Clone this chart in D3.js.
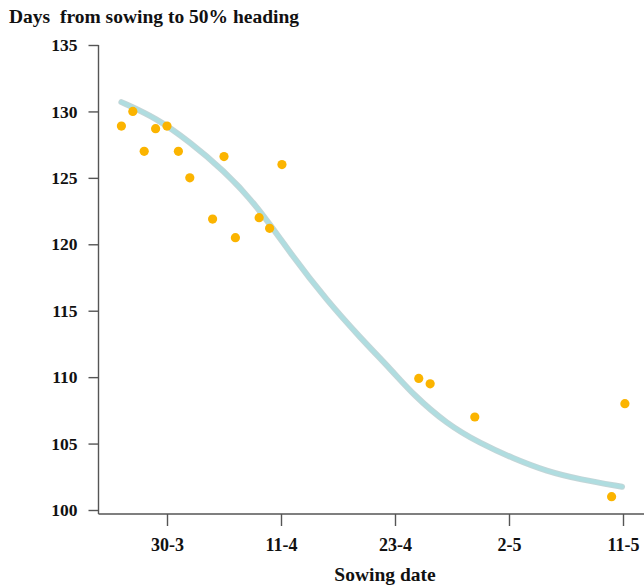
<!DOCTYPE html>
<html>
<head>
<meta charset="utf-8">
<script src="https://cdn.jsdelivr.net/npm/d3@7"></script>
<style>
body { margin: 0; background: #fff; }
svg text { font-family: "Liberation Serif", "DejaVu Serif", serif; font-weight: bold; fill: #111; }
.axis line, .axisline { stroke: #555; stroke-width: 1.4; }
</style>
</head>
<body>
<div class="mainviz"></div>
<script>
// days counted from 30-3, ticks drawn evenly every 12 units
var tickVals = [0, 12, 24, 36, 48];
var tickLabels = ["30-3", "11-4", "23-4", "2-5", "11-5"];
var yTicks = [100, 105, 110, 115, 120, 125, 130, 135];

// observed sowings
var obsX = [-4.8, -3.6, -2.4, -1.2, 0, 1.2, 2.4, 4.8, 6.0, 7.2, 9.7, 10.8, 12.1, 26.5, 27.7, 32.4, 46.8, 48.2];
var obsY = [128.9, 130.0, 127.0, 128.7, 128.9, 127.0, 125.0, 121.9, 126.6, 120.5, 122.0, 121.2, 126.0, 109.9, 109.5, 107.0, 101.0, 108.0];

// fitted curve
var fitX = [-4.8, -1.1, 2.4, 5.9, 9.4, 13.3, 16.8, 20.3, 23.8, 25.9, 29.4, 33.0, 36.4, 40.0, 43.5, 47.9];
var fitY = [130.7, 129.5, 127.7, 125.6, 123.0, 119.0, 115.8, 113.0, 110.4, 108.7, 106.5, 105.0, 103.9, 102.9, 102.3, 101.75];

var width = 644, height = 586;

var svg = d3.select(".mainviz").append("svg")
	.attr("width", width)
	.attr("height", height);

var x = d3.scaleLinear()
	.domain([0, 48])
	.range([167, 623]);

var y = d3.scaleLinear()
	.domain([100, 135])
	.range([510, 45]);

var axisX = 98.5, axisY = 514;

// axes
svg.append("line").attr("class", "axisline")
	.attr("x1", axisX).attr("x2", axisX)
	.attr("y1", y(135)).attr("y2", axisY);
svg.append("line").attr("class", "axisline")
	.attr("x1", axisX).attr("x2", width)
	.attr("y1", axisY).attr("y2", axisY);

var yAxis = svg.append("g")
	.attr("class", "axis y")
	.attr("transform", "translate(" + axisX + ",0)")
	.call(d3.axisLeft(y).tickValues(yTicks).tickSize(10).tickPadding(11).tickFormat(d3.format("d")));
yAxis.select(".domain").remove();
yAxis.selectAll("text").style("font-size", "17.5px");

var xAxis = svg.append("g")
	.attr("class", "axis x")
	.attr("transform", "translate(0," + axisY + ")")
	.call(d3.axisBottom(x).tickValues(tickVals).tickSize(12).tickPadding(12)
		.tickFormat(function(d, i){ return tickLabels[i]; }));
xAxis.select(".domain").remove();
xAxis.selectAll("text").style("font-size", "18px");

// fitted line
var fit = fitX.map(function(d, i){ return [d, fitY[i]]; });
var line = d3.line()
	.x(function(d){ return x(d[0]); })
	.y(function(d){ return y(d[1]); })
	.curve(d3.curveBasis);

svg.append("path")
	.attr("d", line(fit))
	.attr("fill", "none")
	.attr("stroke", "#8fb3b6")
	.attr("stroke-width", 6)
	.attr("stroke-opacity", 0.55)
	.attr("stroke-linecap", "round");

svg.append("path")
	.attr("d", line(fit))
	.attr("fill", "none")
	.attr("stroke", "#afdde0")
	.attr("stroke-width", 4)
	.attr("stroke-linecap", "round");

// observations
svg.selectAll("circle.obs")
	.data(obsX)
	.enter().append("circle")
	.attr("class", "obs")
	.attr("cx", function(d){ return x(d); })
	.attr("cy", function(d, i){ return y(obsY[i]); })
	.attr("r", 4.6)
	.attr("fill", "#fbb400");

// titles
svg.append("text")
	.attr("x", 9).attr("y", 23)
	.style("font-size", "19.5px")
	.style("white-space", "pre")
	.text("Days  from sowing to 50% heading");

svg.append("text")
	.attr("x", 385).attr("y", 581)
	.attr("text-anchor", "middle")
	.style("font-size", "19.5px")
	.text("Sowing date");
</script>
</body>
</html>
